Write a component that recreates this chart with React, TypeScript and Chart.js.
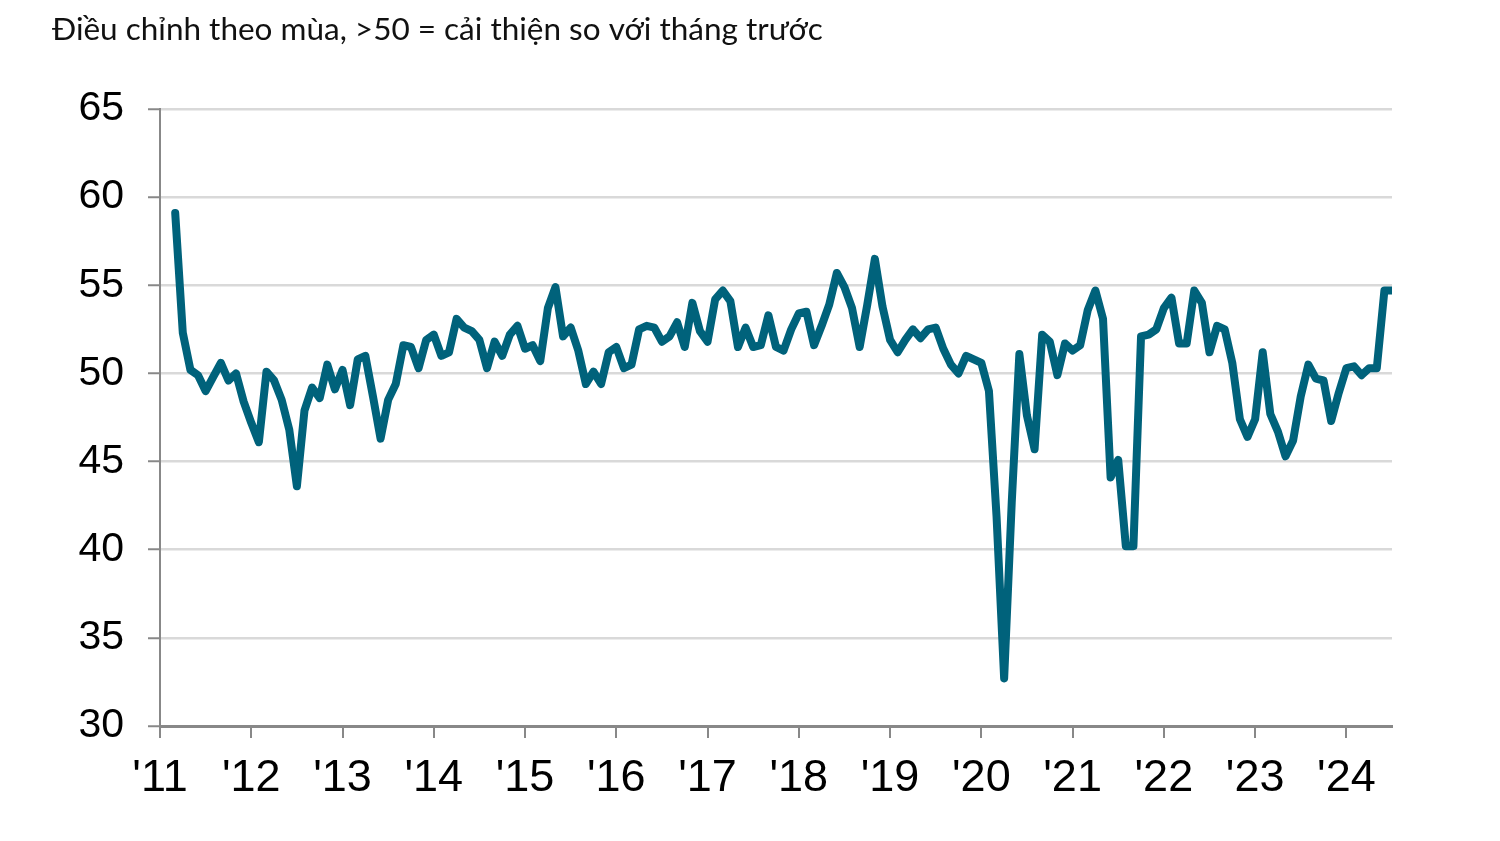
import React, { useEffect, useRef } from "react";
import { Chart, registerables } from "chart.js";

Chart.register(...registerables);

const TITLE = "Điều chỉnh theo mùa, >50 = cải thiện so với tháng trước";

// Month index 0 = Jan 2011; series starts Mar 2011
const FIRST_MONTH_INDEX = 2;

const pmi2011 = [59.1, 52.3, 50.2, 49.9, 49.0, 49.8, 50.6, 49.6, 50.0, 48.4];
const pmi2012 = [47.2, 46.1, 50.1, 49.6, 48.5, 46.8, 43.6, 47.9, 49.2, 48.6, 50.5, 49.1];
const pmi2013 = [50.2, 48.2, 50.8, 51.0, 48.7, 46.3, 48.5, 49.4, 51.6, 51.5, 50.3, 51.9];
const pmi2014 = [52.2, 51.0, 51.2, 53.1, 52.6, 52.4, 51.9, 50.3, 51.8, 51.0, 52.2, 52.7];
const pmi2015 = [51.4, 51.6, 50.7, 53.7, 54.9, 52.1, 52.6, 51.3, 49.4, 50.1, 49.4, 51.2];
const pmi2016 = [51.5, 50.3, 50.5, 52.5, 52.7, 52.6, 51.8, 52.1, 52.9, 51.5, 54.0, 52.4];
const pmi2017 = [51.8, 54.2, 54.7, 54.1, 51.5, 52.6, 51.5, 51.6, 53.3, 51.5, 51.3, 52.5];
const pmi2018 = [53.4, 53.5, 51.6, 52.7, 53.9, 55.7, 54.9, 53.7, 51.5, 53.9, 56.5, 53.8];
const pmi2019 = [51.9, 51.2, 51.9, 52.5, 52.0, 52.5, 52.6, 51.4, 50.5, 50.0, 51.0, 50.8];
const pmi2020 = [50.6, 49.0, 41.9, 32.7, 42.7, 51.1, 47.6, 45.7, 52.2, 51.8, 49.9, 51.7];
const pmi2021 = [51.3, 51.6, 53.6, 54.7, 53.1, 44.1, 45.1, 40.2, 40.2, 52.1, 52.2, 52.5];
const pmi2022 = [53.7, 54.3, 51.7, 51.7, 54.7, 54.0, 51.2, 52.7, 52.5, 50.6, 47.4, 46.4];
const pmi2023 = [47.4, 51.2, 47.7, 46.7, 45.3, 46.2, 48.7, 50.5, 49.7, 49.6, 47.3, 48.9];
const pmi2024 = [50.3, 50.4, 49.9, 50.3, 50.3, 54.7, 54.7];

const yearLabels = ["'11", "'12", "'13", "'14", "'15", "'16", "'17", "'18", "'19", "'20", "'21", "'22", "'23", "'24"];

const Y_MIN = 30;
const Y_MAX = 65;
const Y_STEP = 5;

const titlePlugin = {
  id: "topTitle",
  afterDraw(chart: any) {
    const ctx = chart.ctx;
    ctx.save();
    ctx.font = "31.5px Lato";
    ctx.fillStyle = "#111111";
    ctx.textBaseline = "alphabetic";
    ctx.textAlign = "left";
    ctx.fillText(TITLE, 44, 32);
    ctx.restore();
  },
};

export default function App() {
  const ref = useRef<HTMLCanvasElement>(null);

  useEffect(() => {
    const values = [
      ...pmi2011, ...pmi2012, ...pmi2013, ...pmi2014, ...pmi2015, ...pmi2016, ...pmi2017,
      ...pmi2018, ...pmi2019, ...pmi2020, ...pmi2021, ...pmi2022, ...pmi2023, ...pmi2024,
    ];
    const points = values.map((v, i) => ({ x: FIRST_MONTH_INDEX + i, y: v }));
    const lastIndex = FIRST_MONTH_INDEX + values.length - 1;

    const chart = new Chart(ref.current as HTMLCanvasElement, {
      type: "line",
      data: {
        datasets: [
          {
            data: points,
            borderColor: "#00627B",
            borderWidth: 8,
            pointRadius: 0,
            tension: 0,
            fill: false,
            borderCapStyle: "round",
            borderJoinStyle: "round",
          } as any,
        ],
      },
      options: {
        animation: false,
        responsive: false,
        maintainAspectRatio: false,
        layout: { padding: { top: 101, right: 100, left: 0, bottom: 0 } },
        plugins: {
          legend: { display: false },
          tooltip: { enabled: false },
          title: { display: false },
        },
        scales: {
          x: {
            type: "linear",
            min: 0,
            max: lastIndex,
            afterBuildTicks: (axis: any) => {
              axis.ticks = yearLabels.map((_, k) => ({ value: k * 12 }));
            },
            afterFit: (axis: any) => {
              axis.height = 102;
            },
            ticks: {
              autoSkip: false,
              maxRotation: 0,
              minRotation: 0,
              padding: 14,
              color: "#000",
              font: { family: "'Liberation Sans Narrow', 'Liberation Sans', Arial", size: 45 },
              callback: (v: any) => yearLabels[Math.round(Number(v) / 12)],
            },
            grid: {
              drawOnChartArea: false,
              drawTicks: true,
              tickLength: 12,
              color: "#888888",
              lineWidth: 2,
            },
            border: { color: "#888888", width: 3 },
          },
          y: {
            min: Y_MIN,
            max: Y_MAX,
            afterFit: (axis: any) => {
              axis.width = 152;
            },
            ticks: {
              stepSize: Y_STEP,
              padding: 24,
              color: "#000",
              font: { family: "'Liberation Sans', Arial", size: 41 },
            },
            grid: {
              color: "#d9d9d9",
              lineWidth: 2.5,
              tickLength: 12,
              tickColor: "#888888",
              tickWidth: 2,
            } as any,
            border: { color: "#888888", width: 2 },
          },
        },
      },
      plugins: [titlePlugin],
    } as any);

    return () => chart.destroy();
  }, []);

  return (
    <div style={{ width: 1484, height: 820, position: "relative" }}>
      <canvas ref={ref} width={1484} height={820} style={{ display: "block" }} />
    </div>
  );
}
